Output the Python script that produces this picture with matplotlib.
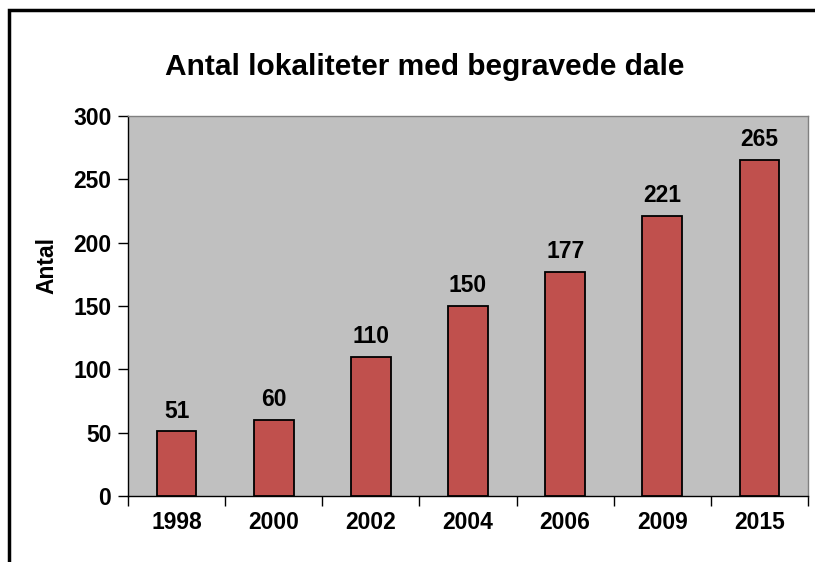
import matplotlib
matplotlib.use("Agg")
import matplotlib.pyplot as plt
from matplotlib.patches import Rectangle

years = ["1998", "2000", "2002", "2004", "2006", "2009", "2015"]
counts = [51, 60, 110, 150, 177, 221, 265]
yticks = [0, 50, 100, 150, 200, 250, 300]

plt.rcParams['font.family'] = ['Liberation Sans', 'DejaVu Sans']

fig = plt.figure(figsize=(8.15, 5.62), dpi=100)
ax = fig.add_axes([128/815, 1-496/562, (808-128)/815, (496-116)/562])
ax.set_facecolor('#C0C0C0')

x = list(range(len(years)))
ax.bar(x, counts, width=0.41, color='#C0504D', edgecolor='black', linewidth=1.3, zorder=3)
for xi, v in zip(x, counts):
    ax.annotate(str(v), (xi, v), xytext=(0, 10), textcoords='offset points',
                ha='center', va='baseline', fontsize=16.5, fontweight='bold')

ax.set_xlim(-0.5, len(years) - 0.5)
ax.set_ylim(0, 300)
ax.set_yticks(yticks)
ax.set_yticklabels([str(t) for t in yticks], fontsize=16.5, fontweight='bold')
ax.set_xticks(x)
ax.set_xticklabels(years, fontsize=16.5, fontweight='bold')
ax.tick_params(axis='x', which='major', length=0, pad=11)
ax.set_xticks([i - 0.5 for i in range(len(years) + 1)], minor=True)
ax.tick_params(axis='x', which='minor', length=7, width=1, color='black')
ax.tick_params(axis='y', length=7, width=1, pad=5)

for s in ['top', 'right']:
    ax.spines[s].set_color('#808080')
    ax.spines[s].set_linewidth(1)
for s in ['left', 'bottom']:
    ax.spines[s].set_color('black')
    ax.spines[s].set_linewidth(1)

fig.text(47/815, 1-266/562, 'Antal', rotation=90, ha='center', va='center',
         fontsize=16.5, fontweight='bold')
fig.text(425/815, 1-67/562, 'Antal lokaliteter med begravede dale', ha='center', va='center',
         fontsize=21.5, fontweight='bold')

fig.add_artist(Rectangle((9/815, -0.1), 1.2, 1.1 - 10/562, transform=fig.transFigure,
                         fill=False, edgecolor='black', linewidth=2.5))

fig.savefig('out.png', dpi=100)
